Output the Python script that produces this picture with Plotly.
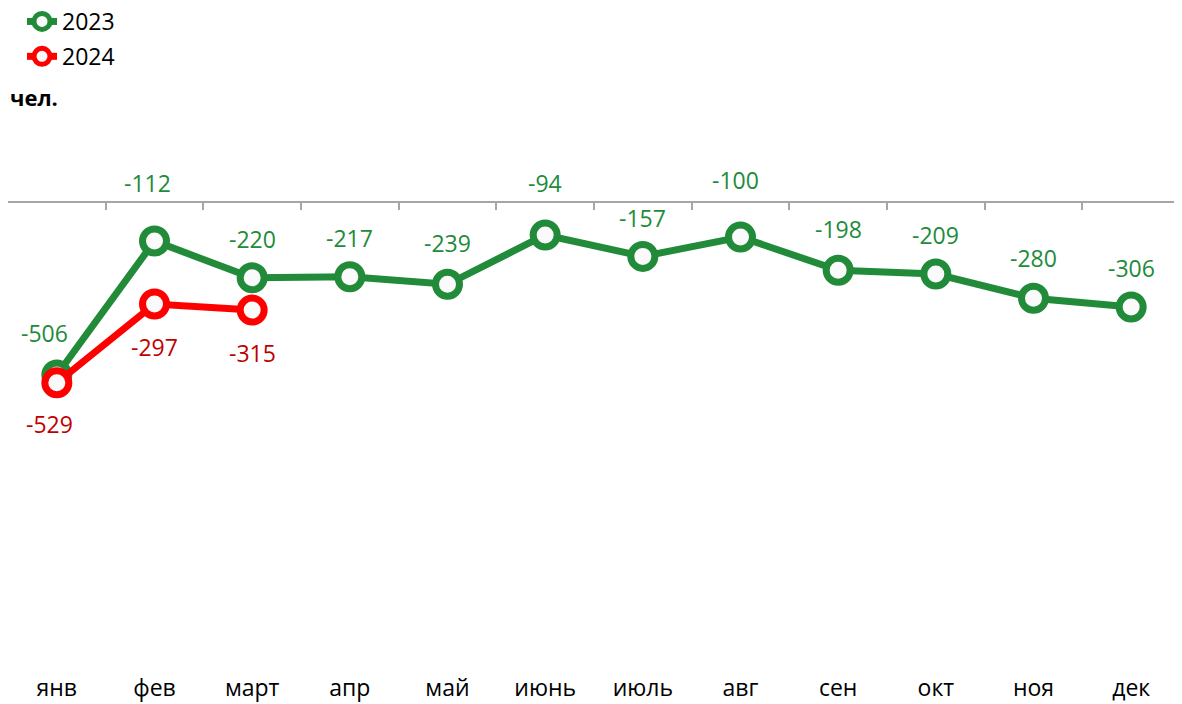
import plotly.graph_objects as go

months = ["янв", "фев", "март", "апр", "май", "июнь", "июль", "авг", "сен", "окт", "ноя", "дек"]
values_2023 = [-506, -112, -220, -217, -239, -94, -157, -100, -198, -209, -280, -306]
months_2024 = ["янв", "фев", "март"]
values_2024 = [-529, -297, -315]
unit_label = "чел."

# label offsets (styling): (xshift, yshift) in px
off_2023 = [(-12, 42), (-7, 58), (0, 39), (0, 39), (0, 41), (0, 52), (0, 38), (-5, 57), (0, 41), (0, 39), (0, 40), (0, 39)]
off_2024 = [(-7, -41), (0, -43), (0, -43)]

GREEN = "#228B3A"
GREEN_TXT = "#228B3A"
RED = "#FF0000"
RED_TXT = "#C00000"
FONT = "Open Sans"

W, H = 1174, 696
T, B, L, R = 195, 42, 0, 2
PLOT_H = H - T - B
PLOT_W = W - L - R

fig = go.Figure()
fig.add_trace(go.Scatter(
    x=months, y=values_2023, name="2023", mode="lines+markers",
    line=dict(color=GREEN, width=7),
    marker=dict(size=24, color="#FAFAFA", line=dict(color=GREEN, width=7)),
    xaxis="x", yaxis="y", legendgroup="a",
))
fig.add_trace(go.Scatter(
    x=months_2024, y=values_2024, name="2024", mode="lines+markers",
    line=dict(color=RED, width=7),
    marker=dict(size=24, color="#FAFAFA", line=dict(color=RED, width=7)),
    xaxis="x2", yaxis="y", legendgroup="b",
))

annotations = []
for m, v, (dx, dy) in zip(months, values_2023, off_2023):
    annotations.append(dict(x=m, y=v, xref="x", yref="y", text=str(v), showarrow=False,
                            xshift=dx, yshift=dy, font=dict(family=FONT, size=23, color=GREEN_TXT)))
for m, v, (dx, dy) in zip(months_2024, values_2024, off_2024):
    annotations.append(dict(x=m, y=v, xref="x", yref="y", text=str(v), showarrow=False,
                            xshift=dx, yshift=dy, font=dict(family=FONT, size=23, color=RED_TXT)))
annotations.append(dict(x=0, y=1 + (T - 89) / PLOT_H, xref="paper", yref="paper",
                        text="<b>" + unit_label + "</b>",
                        showarrow=False, xanchor="left", yanchor="middle",
                        font=dict(family=FONT, size=22, color="#000000")))

fig.update_layout(
    width=W, height=H,
    margin=dict(l=L, r=R, t=T, b=B, autoexpand=False),
    paper_bgcolor="white", plot_bgcolor="white",
    font=dict(family=FONT, size=23, color="#000000"),
    showlegend=True,
    legend=dict(x=14 / PLOT_W, y=1 + (T + 8) / PLOT_H, xref="paper", yref="paper",
                xanchor="left", yanchor="top",
                orientation="v", tracegroupgap=2, itemsizing="trace",
                font=dict(family=FONT, size=23, color="#000000"), bgcolor="rgba(0,0,0,0)"),
    hovermode=False,
    xaxis=dict(type="category", categoryorder="array", categoryarray=months,
               range=[-0.5, 11.5], showline=False, showgrid=False, zeroline=False,
               ticks="", ticklabelstandoff=10,
               tickfont=dict(family=FONT, size=23, color="#000000")),
    xaxis2=dict(type="category", categoryorder="array", categoryarray=months,
                overlaying="x", side="top", anchor="y", matches="x",
                range=[-0.5, 11.5], showline=True, linecolor="#A6A6A6", linewidth=1.5,
                ticks="inside", tickson="boundaries", ticklen=7, tickcolor="#A6A6A6", tickwidth=1.5,
                showticklabels=False, showgrid=False, zeroline=False),
    yaxis=dict(range=[-1350, 0], showgrid=False, zeroline=False, showline=False,
               showticklabels=False, ticks=""),
    annotations=annotations,
)

fig.write_html("out.html")
